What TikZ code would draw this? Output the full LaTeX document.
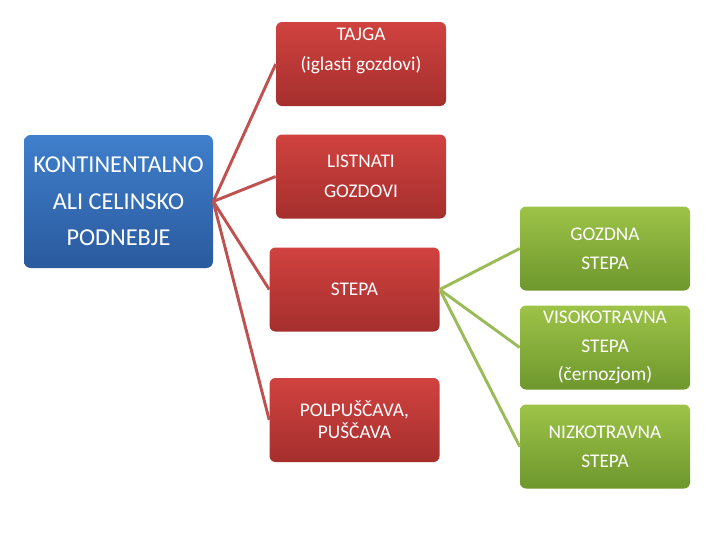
\documentclass[tikz,border=0pt]{standalone}
\usepackage{fontspec}
\setmainfont{Carlito}
\usetikzlibrary{positioning}

\definecolor{bluetop}{HTML}{3F7FCB}
\definecolor{bluebot}{HTML}{2A5A9E}
\definecolor{redtop}{HTML}{D0423F}
\definecolor{redbot}{HTML}{A52F2D}
\definecolor{greentop}{HTML}{9DC347}
\definecolor{greenbot}{HTML}{6E972D}
\definecolor{linkred}{HTML}{BF5250}
\definecolor{linkgreen}{HTML}{9BBB59}

\begin{document}
\begin{tikzpicture}[
    x=0.75pt, y=-0.75pt,
    climatebox/.style={rectangle, rounded corners=5pt, align=center, text=white, font=\fontsize{18.2}{27.5}\selectfont, top color=bluetop, bottom color=bluebot, minimum width=141.75pt, minimum height=99.75pt, inner sep=0pt},
    redbox/.style={rectangle, rounded corners=4.5pt, align=center, text=white, font=\fontsize{14.5}{22.5}\selectfont, top color=redtop, bottom color=redbot, minimum width=127.5pt, minimum height=63pt, inner sep=0pt},
    greenbox/.style={rectangle, rounded corners=4.5pt, align=center, text=white, font=\fontsize{14.5}{21.5}\selectfont, top color=greentop, bottom color=greenbot, minimum width=127.5pt, minimum height=63pt, inner sep=0pt},
    redline/.style={draw=linkred, line width=2.2pt},
    greenline/.style={draw=linkgreen, line width=2.2pt}
]
\useasboundingbox (0,0) rectangle (720,540);

% climate
\node[climatebox] (climate) at (118.5,201.5) {KONTINENTALNO\\ALI CELINSKO\\PODNEBJE};

% vegetation zones
\node[redbox] (tajga) at (361,64) {TAJGA\\(iglasti gozdovi)\\\mbox{}};
\node[redbox] (listnati) at (361,176.5) {LISTNATI\\GOZDOVI};
\node[redbox] (stepa) at (354.5,289.5) {STEPA};
\node[redbox, font=\fontsize{14.5}{16.5}\selectfont] (puscava) at (354.5,420) {POLPUŠČAVA,\\PUŠČAVA};

% types of steppe
\node[greenbox] (gozdna) at (605,248.5) {GOZDNA\\STEPA};
\node[greenbox] (visoko) at (605,347.5) {VISOKOTRAVNA\\STEPA\\(černozjom)};
\node[greenbox] (nizko) at (605,446.5) {NIZKOTRAVNA\\STEPA};

\draw[redline] (climate.east) -- (tajga.west);
\draw[redline] (climate.east) -- (listnati.west);
\draw[redline] (climate.east) -- (stepa.west);
\draw[redline] (climate.east) -- (puscava.west);

\draw[greenline] (stepa.east) -- (gozdna.west);
\draw[greenline] (stepa.east) -- (visoko.west);
\draw[greenline] (stepa.east) -- (nizko.west);

\end{tikzpicture}
\end{document}
